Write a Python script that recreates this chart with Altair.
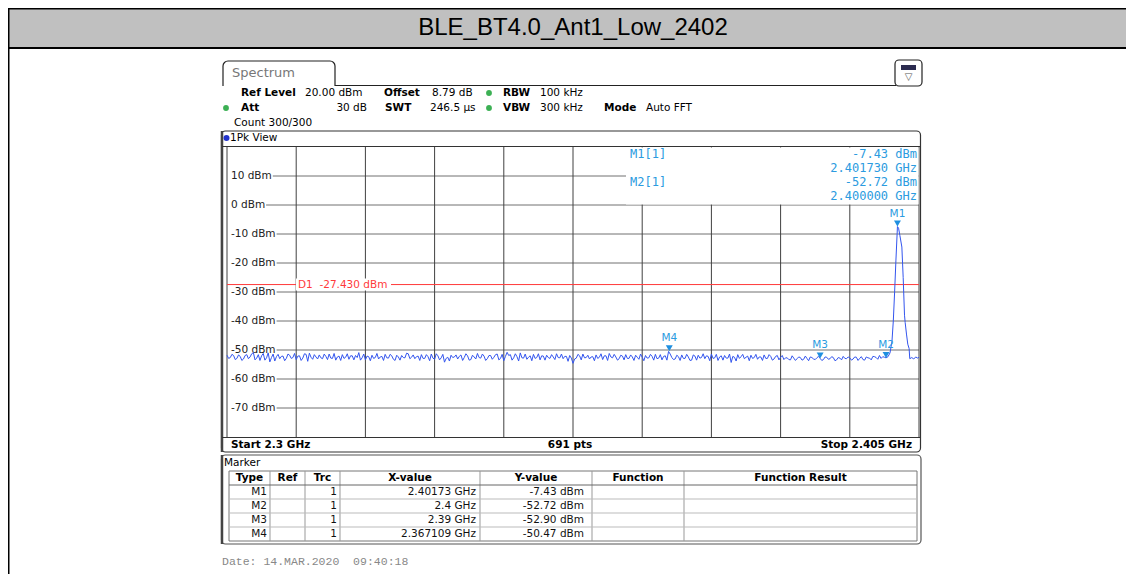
import altair as alt
import pandas as pd

# ---------------- data ----------------
TITLE = "BLE_BT4.0_Ant1_Low_2402"
START_GHZ = 2.3
STOP_GHZ = 2.405
REF_LEVEL = 20.0
BOTTOM_DBM = -80.0
Y_TICKS = [10, 0, -10, -20, -30, -40, -50, -60, -70]
N_DIV = 10
D1_DBM = -27.43

NOISE_START = 2.3
NOISE_STEP = 0.0005
# trace samples at 2.3000, 2.3005, ... 2.4000 GHz
NOISE_DBM = [
    -51.8, -52.6, -51.9, -52.9, -52.2, -53.1, -51.6, -52.4, -50.9, -52.8,
    -53.6, -51.2, -52.7, -54.1, -51.4, -52.3, -53.0, -52.1, -52.9, -51.8,
    -52.6, -53.3, -52.0, -52.8, -51.5, -51.1, -53.2, -52.4, -51.7, -53.0,
    -52.2, -51.4, -52.9, -53.5, -52.1, -51.6, -52.5, -53.2, -52.0, -51.9,
    -50.9, -52.7, -53.4, -52.3, -51.8, -52.6, -53.1, -52.2, -51.5, -52.8,
    -52.0, -53.6, -52.4, -51.9, -52.7, -51.3, -52.5, -53.0, -52.1, -51.6,
    -52.9, -52.3, -51.4, -53.2, -52.0, -52.7, -54.2, -52.5, -51.8, -52.4,
    -53.1, -51.7, -52.6, -52.0, -53.3, -52.4, -51.2, -52.8, -52.1, -53.0,
    -51.9, -52.5, -51.4, -52.9, -53.7, -50.8, -51.6, -52.7, -52.3, -51.0,
    -52.8, -53.2, -52.0, -51.5, -52.6, -53.4, -52.1, -51.8, -52.9, -52.4,
    -51.3, -52.7, -53.0, -52.2, -51.9, -54.6, -52.8, -52.0, -51.4, -52.6,
    -53.1, -52.3, -51.7, -52.5, -53.3, -52.0, -51.2, -52.7, -52.4, -53.0,
    -52.1, -51.6, -52.9, -52.4, -51.8, -53.2, -52.5, -51.9, -52.7, -52.2,
    -51.5, -52.8, -53.4, -52.0, -50.5, -52.6, -53.1, -52.3, -51.7, -52.9,
    -52.4, -53.5, -52.1, -51.8, -52.6, -53.0, -52.2, -51.4, -52.7, -53.6,
    -52.0, -51.9, -52.8, -54.3, -52.5, -51.6, -52.3, -53.0, -52.1, -51.8,
    -52.6, -53.2, -52.4, -51.7, -52.9, -52.2, -53.1, -51.9, -52.5, -53.3,
    -52.7, -53.4, -52.8, -53.0, -52.6, -53.2, -52.9, -52.4, -53.1, -52.7,
    -52.9, -53.3, -52.5, -53.0, -52.6, -53.4, -52.8, -52.2, -53.0, -52.7,
    -53.1, -52.5, -52.9, -53.3, -52.4, -52.8, -52.2, -52.6, -51.9, -52.3,
    -52.7,
]
# trace samples half-way between those above: 2.30025, 2.30075, ... 2.39975 GHz
NOISE_MID_DBM = [
    -52.9, -51.5, -53.3, -51.7, -53.6, -51.9, -53.0, -51.3, -53.4, -51.6,
    -52.0, -53.5, -51.0, -52.6, -53.8, -51.5, -52.2, -53.7, -51.4, -52.9,
    -51.2, -52.1, -53.6, -51.3, -53.9, -52.5, -51.6, -53.1, -52.7, -51.4,
    -53.3, -52.8, -51.2, -52.4, -53.6, -52.9, -51.3, -52.0, -53.4, -52.6,
    -53.5, -51.4, -52.1, -53.7, -52.9, -51.2, -52.4, -53.6, -52.7, -51.5,
    -53.2, -51.8, -53.5, -52.6, -51.1, -53.0, -51.7, -52.3, -53.6, -52.9,
    -51.6, -53.7, -52.8, -51.3, -53.4, -51.5, -52.9, -53.8, -52.6, -51.7,
    -52.2, -53.6, -51.3, -53.5, -51.8, -53.1, -52.6, -51.4, -53.6, -51.9,
    -53.2, -51.6, -53.4, -51.5, -52.2, -51.9, -53.5, -51.3, -53.8, -52.7,
    -51.4, -52.5, -53.7, -52.9, -51.3, -52.0, -53.5, -52.6, -51.6, -53.3,
    -52.6, -51.4, -52.2, -53.9, -52.8, -53.1, -51.5, -53.4, -52.7, -51.8,
    -52.4, -53.7, -52.9, -51.3, -52.0, -53.6, -52.4, -51.5, -53.5, -51.8,
    -53.4, -52.9, -51.7, -53.6, -52.5, -51.4, -53.7, -52.8, -51.5, -53.5,
    -53.0, -51.6, -52.2, -53.5, -51.4, -53.3, -51.8, -53.6, -52.9, -51.5,
    -53.6, -51.7, -53.5, -52.8, -51.3, -52.0, -53.7, -52.9, -51.5, -52.4,
    -53.5, -52.8, -51.4, -52.2, -53.8, -52.9, -51.5, -52.5, -53.7, -52.9,
    -51.5, -52.4, -53.6, -52.9, -51.6, -53.5, -52.2, -53.4, -51.9, -52.7,
    -53.3, -52.0, -53.6, -52.4, -53.5, -52.1, -53.7, -52.6, -53.3, -52.2,
    -53.6, -52.4, -53.2, -52.3, -53.7, -52.6, -53.4, -52.9, -52.4, -53.5,
    -52.4, -53.6, -52.3, -53.5, -52.7, -53.4, -52.3, -53.2, -52.9, -52.5,
]
PEAK_GHZ = [2.4003, 2.4006, 2.4009, 2.4011, 2.4013, 2.4015, 2.40173, 2.4019,
            2.4021, 2.4024, 2.4026, 2.4028, 2.4029, 2.4031, 2.4033, 2.4035,
            2.4036, 2.4039, 2.4042, 2.4045, 2.4048, 2.4050]
PEAK_DBM = [-52.3, -51.0, -47.0, -40.0, -30.0, -19.0, -7.43, -8.0,
            -10.5, -14.5, -25.0, -38.0, -40.5, -44.5, -48.0, -49.5,
            -53.0, -52.6, -53.1, -52.4, -52.8, -52.5]

MARKER_NAMES = ["M1", "M2", "M3", "M4"]
MARKER_TRC = ["1", "1", "1", "1"]
MARKER_GHZ = [2.40173, 2.4, 2.39, 2.367109]
MARKER_XTEXT = ["2.40173 GHz", "2.4 GHz", "2.39 GHz", "2.367109 GHz"]
MARKER_DBM = [-7.43, -52.72, -52.90, -50.47]

TABLE_HEADERS = ["Type", "Ref", "Trc", "X-value", "Y-value", "Function", "Function Result"]
DATE_TEXT = "Date: 14.MAR.2020 \u00a009:40:18"

# ---------------- layout (reference page pixels) ----------------
OX, OY = 8, 8
def px(x): return x - OX
def py(y): return y - OY

PL, PR, PT, PB = 227, 919, 147, 437
XS = alt.Scale(domain=[START_GHZ, STOP_GHZ], range=[px(PL), px(PR)])
YS = alt.Scale(domain=[BOTTOM_DBM, REF_LEVEL], range=[py(PB), py(PT)])

SANS = "DejaVu Sans"
MONO = "DejaVu Sans Mono"
BLUE_TXT = "#2b9be0"
TRACE = "#3355ee"
RED = "#ff3a3a"

CW = {'0': .636, '1': .636, '2': .636, '3': .636, '4': .636, '5': .636, '6': .636,
      '7': .636, '8': .636, '9': .636, '-': .361, ' ': .318, 'd': .635, 'B': .686, 'm': .974}
def twidth(s, size):
    return sum(CW.get(c, .6) for c in s) * size

def rules(segs, color, width=1.0):
    df = pd.DataFrame([{"x": px(a), "y": py(b), "x2": px(c), "y2": py(d)} for a, b, c, d in segs])
    return alt.Chart(df).mark_rule(color=color, strokeWidth=width).encode(
        x=alt.X("x:Q", scale=None), y=alt.Y("y:Q", scale=None), x2="x2:Q", y2="y2:Q")

def rects(boxes, fill="transparent", stroke=None, width=1.0, radius=0):
    df = pd.DataFrame([{"x": px(a), "y": py(b), "x2": px(c), "y2": py(d)} for a, b, c, d in boxes])
    kw = dict(fill=fill, cornerRadius=radius)
    if stroke:
        kw.update(stroke=stroke, strokeWidth=width)
    return alt.Chart(df).mark_rect(**kw).encode(
        x=alt.X("x:Q", scale=None), y=alt.Y("y:Q", scale=None), x2="x2:Q", y2="y2:Q")

def texts(items, size=10.5, color="#000", font=SANS, weight="normal", align="left"):
    df = pd.DataFrame([{"x": px(a), "y": py(b), "t": t} for a, b, t in items])
    return alt.Chart(df).mark_text(align=align, baseline="middle", fontSize=size, color=color,
                                   font=font, fontWeight=weight).encode(
        x=alt.X("x:Q", scale=None), y=alt.Y("y:Q", scale=None), text="t:N")

def dots(items, color, size=30):
    df = pd.DataFrame([{"x": px(a), "y": py(b)} for a, b in items])
    return alt.Chart(df).mark_point(filled=True, shape="circle", size=size, color=color, opacity=1).encode(
        x=alt.X("x:Q", scale=None), y=alt.Y("y:Q", scale=None))

layers = []

# title bar and outer frame
layers.append(rects([(6, 8, 1129, 47)], fill="#c0c0c0"))
layers.append(rules([(8, 8.5, 1129, 8.5), (1129.5, 8, 1129.5, 600), (8.5, 8, 8.5, 600),
                     (8, 48, 1129, 48)], "#000", 2))
layers.append(texts([(573, 28, TITLE)], size=24, font="Liberation Sans", align="center"))

# spectrum tab + icon
layers.append(rects([(223, 61, 335, 100)], fill="white", stroke="#222", width=1.2, radius=5))
layers.append(rects([(222, 86, 337, 102)], fill="white"))
layers.append(rules([(335, 85.5, 896, 85.5)], "#222", 1.2))
layers.append(texts([(232, 73, "Spectrum")], size=13, color="#777"))
layers.append(rects([(895, 60, 922, 86)], fill="white", stroke="#222", width=1.2, radius=4))
layers.append(rects([(901, 65, 916, 70)], fill="#2c2c50"))
layers.append(texts([(908.5, 77, "\u25bd")], size=10, color="#555", align="center"))

# header settings
bold_items = [(241, 93, "Ref Level"), (384, 93, "Offset"), (503, 93, "RBW"),
              (241, 108, "Att"), (385, 108, "SWT"), (503, 108, "VBW"), (604, 108, "Mode")]
reg_items = [(305, 93, "20.00 dBm"), (432, 93, "8.79 dB"), (540, 93, "100 kHz"),
             (430, 108, "246.5 \u00b5s"), (540, 108, "300 kHz"), (646, 108, "Auto FFT"),
             (234, 123, "Count 300/300")]
layers.append(texts(bold_items, weight="bold"))
layers.append(texts(reg_items))
layers.append(texts([(367, 108, "30 dB")], align="right"))
layers.append(dots([(489, 93), (226, 108), (489, 108)], "#3cb054", 34))

# view box
layers.append(rects([(221.5, 131, 920.5, 452)], fill="white", stroke="#333", width=1.2, radius=4))
layers.append(rules([(222, 131, 222, 452)], "#444", 2.5))
layers.append(rules([(222, 146.5, 920, 146.5), (222, 437.5, 920, 437.5)], "#333", 1))
layers.append(dots([(226.5, 138)], "#2233cc", 36))
layers.append(texts([(230, 138, "1Pk View")]))

# grid
hgrid = pd.DataFrame({
    "dbm": Y_TICKS,
    "x": [px(231 + twidth(f"{v} dBm", 10.5) + 1) for v in Y_TICKS],
    "x2": [px(PR)] * len(Y_TICKS),
})
layers.append(alt.Chart(hgrid).mark_rule(color="#707070", strokeWidth=1).encode(
    x=alt.X("x:Q", scale=None), x2="x2:Q", y=alt.Y("dbm:Q", scale=YS, axis=None)))
vgrid = pd.DataFrame({
    "f": [START_GHZ + k * (STOP_GHZ - START_GHZ) / N_DIV for k in range(0, N_DIV + 1)],
    "top": [REF_LEVEL] * (N_DIV + 1), "bot": [BOTTOM_DBM] * (N_DIV + 1)})
layers.append(alt.Chart(vgrid).mark_rule(color="#404040", strokeWidth=1).encode(
    x=alt.X("f:Q", scale=XS, axis=None), y=alt.Y("top:Q", scale=YS, axis=None), y2="bot:Q"))

# marker info box
layers.append(rects([(626, 147.5, 918.5, 204.5)], fill="white"))
info_left = [(630, 154, f"{MARKER_NAMES[0]}[1]"), (630, 182, f"{MARKER_NAMES[1]}[1]")]
info_right = [(917, 154, f"{MARKER_DBM[0]:.2f} dBm"), (917, 168, f"{MARKER_GHZ[0]:.6f} GHz"),
              (917, 182, f"{MARKER_DBM[1]:.2f} dBm"), (917, 196, f"{MARKER_GHZ[1]:.6f} GHz")]
layers.append(texts(info_left, size=12, color=BLUE_TXT, font=MONO))
layers.append(texts(info_right, size=12, color=BLUE_TXT, font=MONO, align="right"))

# y labels
ylab = pd.DataFrame({"dbm": Y_TICKS, "t": [f"{v} dBm" for v in Y_TICKS], "x": [px(231)] * len(Y_TICKS)})
layers.append(alt.Chart(ylab).mark_text(align="left", baseline="middle", fontSize=10.5, font=SANS,
                                        color="#222").encode(
    x=alt.X("x:Q", scale=None), y=alt.Y("dbm:Q", scale=YS, axis=None), text="t:N"))

# D1 line
d1 = pd.DataFrame({"f": [START_GHZ], "f2": [STOP_GHZ], "dbm": [D1_DBM],
                   "x": [px(296)], "x2": [px(391)], "xl": [px(298)],
                   "t": [f"D1 \u00a0{D1_DBM:.3f} dBm"]})
layers.append(alt.Chart(d1).mark_rule(color=RED, strokeWidth=1).encode(
    x=alt.X("f:Q", scale=XS, axis=None), x2="f2:Q", y=alt.Y("dbm:Q", scale=YS, axis=None)))
layers.append(alt.Chart(d1).mark_rect(fill="white", yOffset=-6, y2Offset=6).encode(
    x=alt.X("x:Q", scale=None), x2="x2:Q", y=alt.Y("dbm:Q", scale=YS, axis=None), y2="dbm:Q"))
layers.append(alt.Chart(d1).mark_text(align="left", baseline="middle", fontSize=10.5, font=SANS,
                                      color=RED).encode(
    x=alt.X("xl:Q", scale=None), y=alt.Y("dbm:Q", scale=YS, axis=None), text="t:N"))

# trace
trace = pd.DataFrame({
    "f": [NOISE_START + i * NOISE_STEP for i in range(len(NOISE_DBM))]
         + [NOISE_START + (i + 0.5) * NOISE_STEP for i in range(len(NOISE_MID_DBM))]
         + PEAK_GHZ,
    "dbm": NOISE_DBM + NOISE_MID_DBM + PEAK_DBM})
layers.append(alt.Chart(trace).mark_line(color=TRACE, strokeWidth=1).encode(
    x=alt.X("f:Q", scale=XS, axis=None, sort=None), y=alt.Y("dbm:Q", scale=YS, axis=None),
    order="f:Q"))

# markers
mk = pd.DataFrame({"f": MARKER_GHZ, "dbm": MARKER_DBM, "n": MARKER_NAMES})
layers.append(alt.Chart(mk).mark_point(shape="triangle-down", filled=True, size=48, color="#1f8fe0",
                                       opacity=1, yOffset=-3).encode(
    x=alt.X("f:Q", scale=XS, axis=None), y=alt.Y("dbm:Q", scale=YS, axis=None)))
layers.append(alt.Chart(mk).mark_text(fontSize=10.5, font=SANS, color=BLUE_TXT, yOffset=-13,
                                      baseline="middle").encode(
    x=alt.X("f:Q", scale=XS, axis=None), y=alt.Y("dbm:Q", scale=YS, axis=None), text="n:N"))

# footer of view
layers.append(texts([(231, 445, f"Start {START_GHZ:g} GHz")], weight="bold"))
layers.append(texts([(570, 445, "691 pts")], weight="bold", align="center"))
layers.append(texts([(912, 445, f"Stop {STOP_GHZ:g} GHz")], weight="bold", align="right"))

# marker table panel
layers.append(rects([(221.5, 455, 921, 544)], fill="white", stroke="#555", width=1.2, radius=4))
layers.append(rules([(222, 455, 222, 544)], "#444", 2.5))
layers.append(texts([(224, 463, "Marker")]))
COLS = [229, 270, 305, 340, 480, 592, 684, 917]
ROWS = [471, 485, 499, 513, 527, 541]
layers.append(rects([(COLS[0], ROWS[0], COLS[-1], ROWS[-1])], stroke="#777", width=1))
layers.append(rules([(c, ROWS[0], c, ROWS[-1]) for c in COLS[1:-1]], "#999", 1))
layers.append(rules([(COLS[0], r, COLS[-1], r) for r in ROWS[2:-1]], "#bbb", 1))
layers.append(rules([(COLS[0], ROWS[1], COLS[-1], ROWS[1])], "#666", 1))
hdr = [((COLS[i] + COLS[i + 1]) / 2, 478, h) for i, h in enumerate(TABLE_HEADERS)]
layers.append(texts(hdr, weight="bold", align="center"))
cells = []
for r, (n, trc, xt, yv) in enumerate(zip(MARKER_NAMES, MARKER_TRC, MARKER_XTEXT, MARKER_DBM)):
    yy = 492 + 14 * r
    cells += [(COLS[1] - 3, yy, n), (COLS[3] - 3, yy, trc), (COLS[4] - 4, yy, xt),
              (COLS[5] - 8, yy, f"{yv:.2f} dBm")]
layers.append(texts(cells, align="right", color="#111"))

# date
layers.append(texts([(222, 562, DATE_TEXT)], size=11.5, color="#888", font="Liberation Mono"))

chart = alt.layer(*layers).properties(
    width=1118, height=566, padding=0,
    autosize=alt.AutoSizeParams(type="none"),
).configure_view(stroke=None).configure(background="white")

chart.save("out.html", embed_options={"renderer": "svg", "actions": False})
